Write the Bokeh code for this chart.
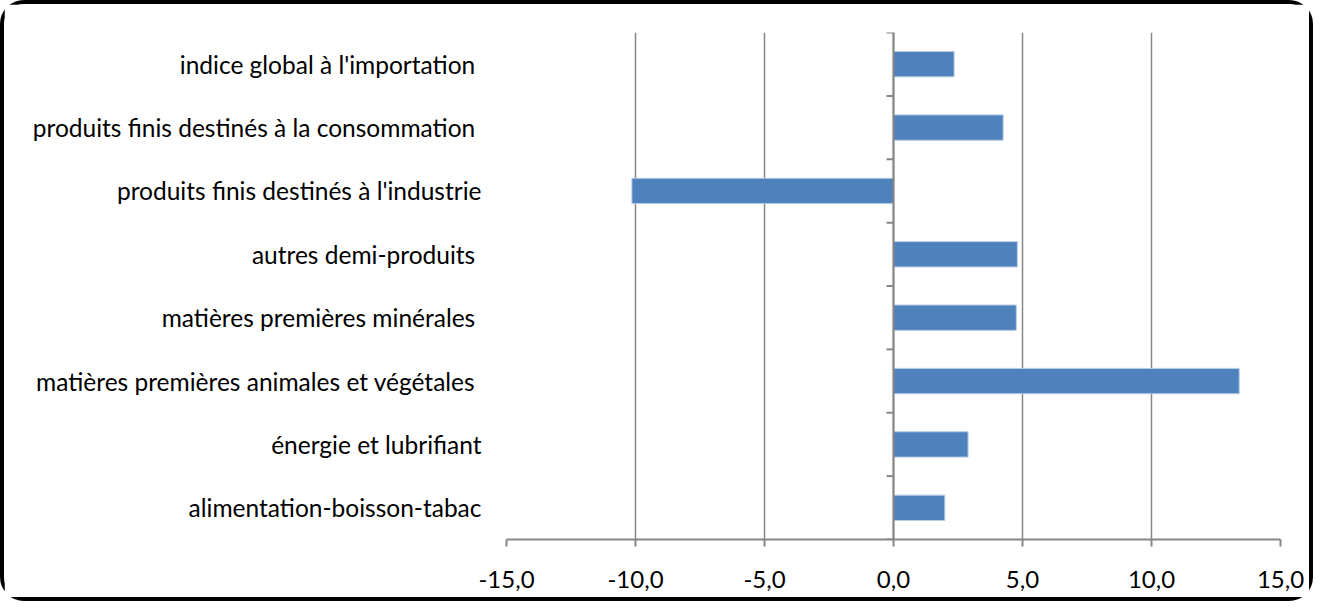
import math
from bokeh.plotting import figure
from bokeh.models import Span, FixedTicker, ColumnDataSource
from bokeh.embed import file_html
from bokeh.resources import INLINE

# Data (bottom to top)
categories = [
    "alimentation-boisson-tabac",
    "énergie et lubrifiant",
    "matières premières animales et végétales ",
    "matières premières minérales ",
    "autres demi-produits ",
    "produits finis destinés à l'industrie",
    "produits finis destinés à la consommation ",
    "indice global à l'importation ",
]
values = [1.99, 2.89, 13.40, 4.76, 4.80, -10.14, 4.25, 2.35]
x_ticks = [-15, -10, -5, 0, 5, 10, 15]
x_tick_labels = ["-15,0", "-10,0", "-5,0", "0,0", "5,0", "10,0", "15,0"]

FONT = "Lato"
GRAY = "#868686"

positions = list(range(len(categories)))
src = ColumnDataSource(dict(y=positions, right=values, left=[0] * len(values)))

p = figure(
    width=1313, height=601,
    x_range=(-15, 15), y_range=(-0.5, len(categories) - 0.5),
    output_backend="svg", toolbar_location=None,
    min_border_left=502, min_border_right=37, min_border_top=28, min_border_bottom=66,
)
p.styles = {"border": "4px solid black", "border-radius": "24px"}
p.outline_line_color = None

p.hbar(y="y", left="left", right="right", height=0.4, source=src,
       fill_color="#4F81BD", line_color="#B9CDE5", line_width=1)

# zero axis line and category tick marks
p.add_layout(Span(location=0, dimension="height", line_color=GRAY, line_width=2))
bounds = [i - 0.5 for i in range(len(categories) + 1)]
p.ray(x=[0] * len(bounds), y=bounds, length=7, length_units="screen",
      angle=math.pi, line_color=GRAY, line_width=2)

# x axis
p.xaxis.ticker = FixedTicker(ticks=x_ticks)
p.xaxis.major_label_overrides = {t: l for t, l in zip(x_ticks, x_tick_labels)}
p.xaxis.axis_line_color = GRAY
p.xaxis.axis_line_width = 2
p.xaxis.major_tick_line_color = GRAY
p.xaxis.major_tick_line_width = 2
p.xaxis.major_tick_out = 7
p.xaxis.major_tick_in = 0
p.xaxis.minor_tick_line_color = None
p.xaxis.major_label_standoff = 24
p.xaxis.major_label_text_font = FONT
p.xaxis.major_label_text_font_size = "24px"
p.xaxis.major_label_text_color = "black"

# y axis (labels only, at frame left)
p.yaxis.ticker = FixedTicker(ticks=positions)
p.yaxis.major_label_overrides = {i: c for i, c in zip(positions, categories)}
p.yaxis.axis_line_color = None
p.yaxis.major_tick_line_color = None
p.yaxis.minor_tick_line_color = None
p.yaxis.major_label_standoff = 19
p.yaxis.major_label_text_font = FONT
p.yaxis.major_label_text_font_size = "24.5px"
p.yaxis.major_label_text_color = "black"

p.xgrid.ticker = FixedTicker(ticks=x_ticks)
p.xgrid.grid_line_color = GRAY
p.xgrid.grid_line_width = 1.5
p.ygrid.grid_line_color = None

open("out.html", "w").write(file_html(p, INLINE))
